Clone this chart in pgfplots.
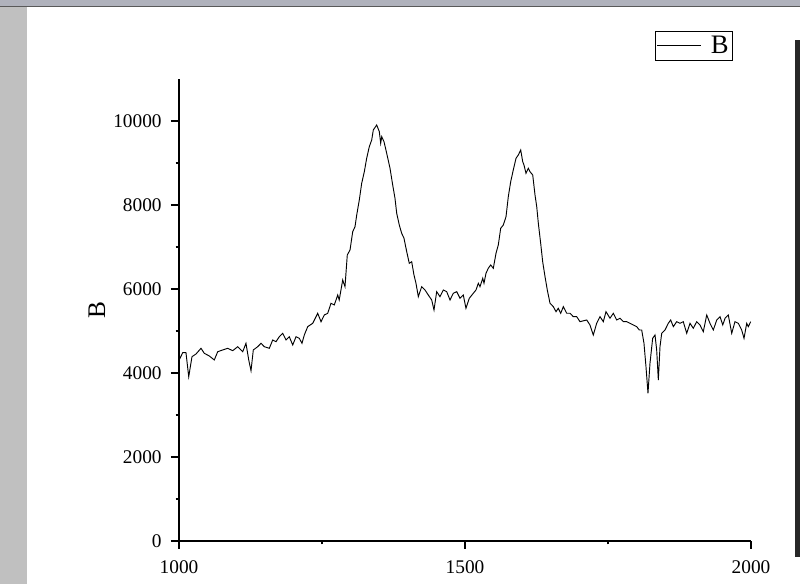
\documentclass[border=0pt]{standalone}
\usepackage{fontspec}
\setmainfont{Liberation Serif}
\usepackage{pgfplots}
\pgfplotsset{compat=1.18}
\definecolor{winstrip}{RGB}{192,192,192}
\definecolor{winbar}{RGB}{176,178,188}
\definecolor{winedge}{RGB}{40,40,40}

\begin{document}
\begin{tikzpicture}
% screenshot frame: 800 x 584 px, 1 px = 0.75 pt
\useasboundingbox (0pt,0pt) rectangle (600pt,438pt);
\fill[white] (0pt,0pt) rectangle (600pt,438pt);
\fill[winstrip] (0pt,0pt) rectangle (20.25pt,432.75pt);
\fill[winbar] (0pt,432.75pt) rectangle (600pt,438pt);
\draw[gray!70!black,line width=0.75pt] (0pt,432.75pt) -- (600pt,432.75pt);
\fill[winedge] (596.25pt,20.25pt) rectangle (600pt,408pt);

\begin{axis}[
  at={(134.25pt,32.25pt)}, anchor=south west,
  scale only axis, width=429pt, height=346.5pt,
  xmin=1000, xmax=2000, ymin=0, ymax=11000,
  axis x line*=bottom, axis y line*=left,
  axis line style={line width=1pt,-},
  xtick={1000,1500,2000}, ytick={0,2000,4000,6000,8000,10000},
  minor x tick num=1, minor y tick num=1,
  tick align=outside,
  major tick length=6pt, minor tick length=2.5pt,
  every tick/.style={black,line width=0.9pt},
  scaled ticks=false,
  /pgf/number format/.cd, 1000 sep={}, assume math mode=true,
  /pgfplots/.cd,
  tick label style={font=\fontsize{14.5}{16}\selectfont},
  yticklabel style={xshift=-3.5pt},
  xticklabel style={yshift=-5.5pt},
  ylabel={B},
  ylabel style={at={(axis description cs:-0.1434,0.5)}, anchor=center,
                font=\fontsize{19}{20}\selectfont},
  legend style={at={(axis description cs:0.8322,1.1039)}, anchor=north west,
                draw=black, line width=0.6pt, inner xsep=1pt, inner ysep=1.5pt,
                font=\fontsize{20}{21}\selectfont,
                /tikz/every odd column/.append style={column sep=5pt}},
  legend image code/.code={\draw[line width=0.6pt] (0pt,0pt) -- (33pt,0pt);},
]
\addplot[black, line width=0.7pt] coordinates {
(1000.0,4300) (1006.5,4483) (1012.2,4483) (1017.0,3912) (1022.7,4388)
(1029.7,4452) (1038.5,4588) (1044.2,4469) (1053.0,4405) (1061.7,4310)
(1067.7,4507) (1076.4,4548) (1085.1,4588) (1093.9,4531) (1102.6,4626)
(1111.4,4507) (1117.1,4707) (1121.9,4310) (1125.9,4055) (1129.9,4548)
(1137.6,4626) (1143.4,4707) (1149.1,4626) (1157.9,4588) (1163.8,4786)
(1169.6,4745) (1175.4,4864) (1181.3,4945) (1187.1,4786) (1192.8,4864)
(1198.8,4667) (1204.6,4864) (1210.3,4826) (1215.0,4707) (1219.1,4905)
(1225.0,5103) (1233.8,5183) (1242.5,5421) (1248.3,5221) (1254.0,5381)
(1260.0,5421) (1265.7,5660) (1271.5,5619) (1277.5,5857) (1280.1,5738)
(1286.2,6214) (1290.2,6055) (1294.2,6810) (1299.0,6929) (1303.7,7365)
(1307.7,7483) (1310.7,7762) (1315.2,8119) (1319.4,8517) (1324.0,8793)
(1328.1,9112) (1332.7,9388) (1336.9,9548) (1339.7,9786) (1345.6,9905)
(1350.2,9746) (1352.6,9469) (1354.4,9626) (1358.4,9507) (1363.1,9231)
(1368.9,8874) (1373.6,8476) (1377.6,8160) (1380.6,7803) (1385.1,7524)
(1389.3,7326) (1393.4,7207) (1398.1,6888) (1402.6,6612) (1406.8,6650)
(1410.8,6333) (1414.3,6136) (1418.4,5817) (1424.3,6055) (1430.1,5976)
(1435.8,5857) (1441.8,5738) (1445.8,5500) (1450.5,5936) (1456.3,5817)
(1462.1,5976) (1468.0,5936) (1473.8,5738) (1479.5,5898) (1485.5,5936)
(1491.3,5779) (1497.0,5857) (1501.7,5541) (1507.5,5779) (1514.5,5898)
(1519.2,5976) (1523.3,6136) (1526.2,6055) (1531.0,6255) (1533.2,6136)
(1536.7,6374) (1540.7,6493) (1544.9,6572) (1549.5,6493) (1554.2,6850)
(1558.2,7048) (1562.4,7445) (1567.0,7524) (1571.7,7722) (1575.7,8198)
(1579.9,8555) (1584.4,8834) (1589.2,9112) (1593.2,9191) (1597.4,9310)
(1600.9,9031) (1603.1,8953) (1606.6,8755) (1610.7,8874) (1613.6,8793)
(1618.4,8714) (1622.4,8238) (1625.4,7960) (1628.2,7565) (1632.3,7088)
(1635.8,6650) (1639.9,6293) (1643.9,5976) (1648.6,5660) (1654.4,5579)
(1659.1,5460) (1663.1,5541) (1667.3,5422) (1671.9,5579) (1677.8,5422)
(1683.6,5422) (1689.3,5341) (1695.3,5341) (1701.0,5222) (1712.8,5262)
(1718.5,5143) (1724.3,4905) (1730.2,5183) (1736.0,5341) (1741.8,5222)
(1746.5,5460) (1753.5,5303) (1759.3,5422) (1765.2,5262) (1771.0,5303)
(1776.8,5222) (1782.7,5222) (1788.5,5183) (1794.2,5143) (1800.2,5103)
(1804.7,5024) (1808.9,5024) (1812.9,4707) (1816.4,4150) (1819.9,3517)
(1823.4,4231) (1828.1,4826) (1832.2,4905) (1835.1,4548) (1838.0,3833)
(1840.9,4626) (1843.9,4945) (1849.7,5024) (1855.4,5183) (1859.6,5262)
(1864.2,5103) (1870.1,5222) (1875.9,5183) (1881.6,5222) (1887.6,4945)
(1893.4,5183) (1899.1,5064) (1905.1,5222) (1910.8,5143) (1916.6,4983)
(1922.6,5381) (1928.3,5183) (1934.1,5024) (1940.1,5262) (1945.8,5341)
(1950.6,5143) (1954.6,5303) (1960.3,5381) (1966.3,4945) (1972.0,5222)
(1977.8,5183) (1983.7,5024) (1987.8,4826) (1992.5,5183) (1995.3,5103)
(1999.5,5222)
};
\addlegendentry{B}
\end{axis}
\end{tikzpicture}
\end{document}
